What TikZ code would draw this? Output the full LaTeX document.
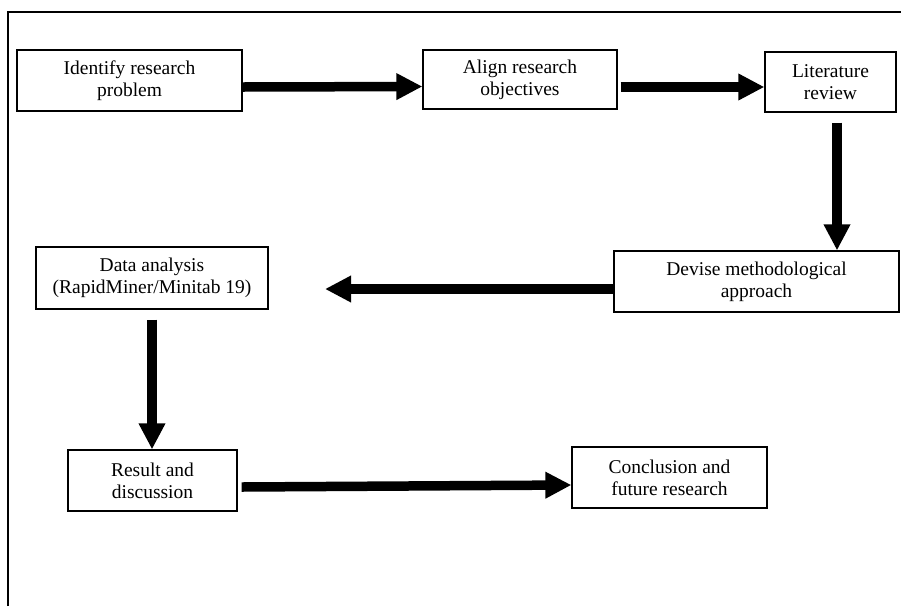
\documentclass[tikz,border=0pt]{standalone}
\usepackage{fontspec}
\setmainfont{Liberation Serif}
\usepackage{tikz}
\usetikzlibrary{positioning,arrows.meta}
\tikzset{stage/.style={draw,line width=1.2pt,align=center,inner sep=0pt,minimum height=61pt,font=\fontsize{19.5}{22}\selectfont}}
\tikzset{flow/.style={line width=9.5pt,-{Triangle[length=26pt,width=25pt]}}}
\tikzset{frame/.style={draw,line width=1.5pt}}

\begin{document}
\begin{tikzpicture}[x=1pt,y=-1pt]
        \useasboundingbox (0,0) rectangle (901,606);
        \path[frame] (8,606) -- (8,12) -- (901,12);
        \node[stage,minimum width=225pt] (problem) at (129.5,80.5) {Identify research\\problem};
        \node[stage,minimum width=194pt,minimum height=59pt] (objectives) at (520,79.5) {Align research\\objectives};
        \node[stage,minimum width=131pt,minimum height=60pt] (review) at (830.5,82) {Literature\\review};
        \node[stage,minimum width=285pt] (method) at (756.5,281.5) {Devise methodological\\approach};
        \node[stage,minimum width=232pt,minimum height=62pt] (analysis) at (152,278) {Data analysis\\(RapidMiner/Minitab 19)};
        \node[stage,minimum width=169pt] (result) at (152.5,480.5) {Result and\\discussion};
        \node[stage,minimum width=195pt] (conclusion) at (669.5,477.5) {Conclusion and\\future research};
        \coordinate (methodtip) at (325,289);
            \path[draw,flow] ([yshift=-6.5pt]problem.east) -- ([yshift=-7pt]objectives.west);
            \path[draw,flow] ([xshift=3pt,yshift=-7.5pt]objectives.east) -- ([yshift=-5pt]review.west);
            \path[draw,flow] ([xshift=6.5pt,yshift=-10pt]review.south) -- ([xshift=6.5pt]review.south |- method.north);
            \path[draw,flow] ([yshift=-7.5pt]method.west) -- (methodtip);
            \path[draw,flow] ([yshift=-10pt]analysis.south) -- (analysis.south |- result.north);
            \path[draw,flow] ([xshift=4pt,yshift=-6.5pt]result.east) -- ([yshift=-7.5pt]conclusion.west);
    \end{tikzpicture}
\end{document}
